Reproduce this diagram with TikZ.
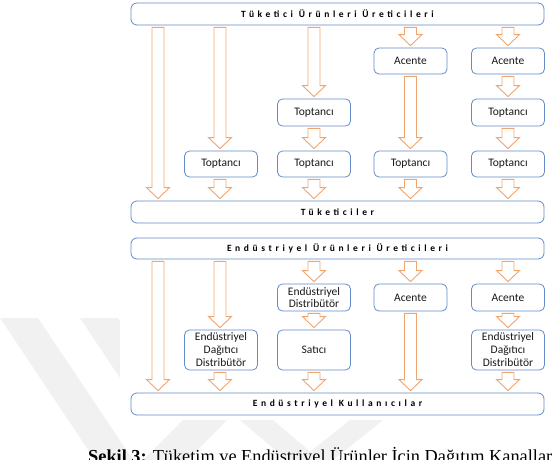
\documentclass[tikz,border=0pt]{standalone}
\usepackage{fontspec}
\setmainfont{Liberation Serif}
\newfontfamily\boxfont{Carlito}
\newfontfamily\barfont[LetterSpace=38]{Carlito}
\usetikzlibrary{calc}
\definecolor{arrc}{RGB}{241,165,110}
\definecolor{boxc}{RGB}{100,140,200}
\definecolor{wm}{RGB}{241,241,241}
\tikzset{
 box/.style={draw=boxc, line width=0.8pt, rounded corners=5pt, fill=white, minimum width=73pt, inner sep=0pt, align=center, font=\boxfont\fontsize{11.5}{13}\selectfont, text=black!90},
 bar/.style={draw=boxc, line width=0.8pt, rounded corners=6pt, fill=white, minimum width=413pt, minimum height=22pt, inner sep=0pt, font=\barfont\bfseries\fontsize{9.5}{11}\selectfont},
 arr/.style={draw=arrc, line width=0.9pt, fill=white, line join=miter},
 wmark/.style={fill=wm, draw=none}
}
\newcommand\barrow[3]{\draw[arr] let \p3=(#1), \p1=(#2.south), \p2=(#3.north) in
 (\x3-6pt,\y1-2pt) -- (\x3+6pt,\y1-2pt) -- (\x3+6pt,\y2+13pt) -- (\x3+11.5pt,\y2+13pt) -- (\x3,\y2+2pt) -- (\x3-11.5pt,\y2+13pt) -- (\x3-6pt,\y2+13pt) -- cycle;}
\begin{document}
\begin{tikzpicture}[x=1pt,y=-1pt]
\useasboundingbox (0,0) rectangle (552,460);
\fill[white] (0,0) rectangle (552,460);
% watermark
\fill[wmark] (0,318) -- (38,318) -- (133,460) -- (95,460) -- cycle;
\fill[wmark] (80,318) -- (118,318) -- (186,420) -- (148,420) -- cycle;
\fill[wmark] (143,460) -- (187,460) -- (227,420) -- (183,420) -- cycle;
\fill[wmark] (240,420) -- (273,420) -- (320,460) -- (287,460) -- cycle;
\fill[wmark] (300,460) -- (333,460) -- (383,420) -- (350,420) -- cycle;
\fill[white] (120,0) rectangle (552,420);
% columns
\coordinate (c1) at (158,0);
\coordinate (c2) at (220,0);
\coordinate (c3) at (314,0);
\coordinate (c4) at (410.5,0);
\coordinate (c5) at (508,0);
% consumer products
\node[bar] (T1) at (337.5,14) {Tüketici Ürünleri Üreticileri};
\node[box, minimum height=26pt] (ac1) at (410.5,61) {Acente};
\node[box, minimum height=26pt] (ac2) at (508,61) {Acente};
\node[box, minimum height=27pt] (tA3) at (314,112.5) {Toptancı};
\node[box, minimum height=27pt] (tA5) at (508,112.5) {Toptancı};
\node[box, minimum height=26pt] (tB2) at (221,164) {Toptancı};
\node[box, minimum height=26pt] (tB3) at (314,164) {Toptancı};
\node[box, minimum height=26pt] (tB4) at (410.5,164) {Toptancı};
\node[box, minimum height=26pt] (tB5) at (508,164) {Toptancı};
\node[bar] (T2) at (337.5,212) {Tüketiciler};
% industrial products
\node[bar, minimum height=21pt] (E1) at (337.5,248.5) {Endüstriyel Ürünleri Üreticileri};
\node[box, minimum height=27pt, font=\boxfont\fontsize{11.5}{12.3}\selectfont] (eA3) at (314,297.5) {Endüstriyel\\Distribütör};
\node[box, minimum height=27pt] (eA4) at (410.5,297.5) {Acente};
\node[box, minimum height=27pt] (eA5) at (508,297.5) {Acente};
\node[box, minimum height=40pt] (eB2) at (221,350) {Endüstriyel\\Dağıtıcı\\Distribütör};
\node[box, minimum height=40pt] (eB3) at (314,350) {Satıcı};
\node[box, minimum height=40pt] (eB5) at (508,350) {Endüstriyel\\Dağıtıcı\\Distribütör};
\node[bar] (E2) at (337.5,404) {Endüstriyel Kullanıcılar};
% arrows, consumer
\barrow{c1}{T1}{T2}
\barrow{c2}{T1}{tB2}
\barrow{c3}{T1}{tA3}
\barrow{c4}{T1}{ac1}
\barrow{c5}{T1}{ac2}
\barrow{c3}{tA3}{tB3}
\barrow{c4}{ac1}{tB4}
\barrow{c5}{ac2}{tA5}
\barrow{c5}{tA5}{tB5}
\barrow{c2}{tB2}{T2}
\barrow{c3}{tB3}{T2}
\barrow{c4}{tB4}{T2}
\barrow{c5}{tB5}{T2}
% arrows, industrial
\barrow{c1}{E1}{E2}
\barrow{c2}{E1}{eB2}
\barrow{c3}{E1}{eA3}
\barrow{c4}{E1}{eA4}
\barrow{c5}{E1}{eA5}
\barrow{c3}{eA3}{eB3}
\barrow{c4}{eA4}{E2}
\barrow{c5}{eA5}{eB5}
\barrow{c2}{eB2}{E2}
\barrow{c3}{eB3}{E2}
\barrow{c5}{eB5}{E2}
% caption
\node[anchor=base west, inner sep=0pt, font=\fontsize{18.3}{20}\selectfont] (cap) at (88,462) {\textbf{Şekil 3:} Tüketim ve Endüstriyel Ürünler İçin Dağıtım Kanalları};
\end{tikzpicture}
\end{document}
